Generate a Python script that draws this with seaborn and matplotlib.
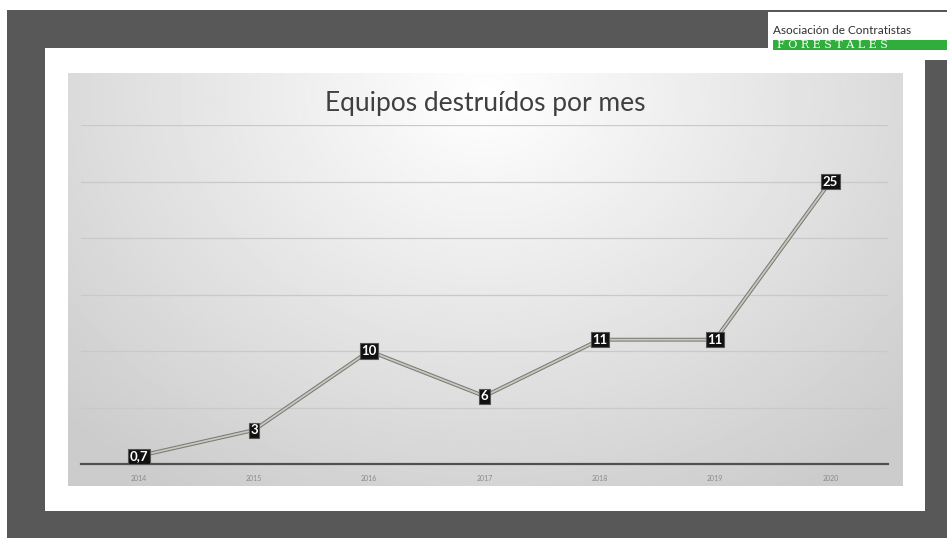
import numpy as np
import pandas as pd
import seaborn as sns
import matplotlib.pyplot as plt
from matplotlib.patches import Rectangle

# data
years = ['2014', '2015', '2016', '2017', '2018', '2019', '2020']
destroyed = [0.7, 3, 10, 6, 11, 11, 25]
value_labels = ['0,7', '3', '10', '6', '11', '11', '25']

df = pd.DataFrame({'year': years, 'equipos': destroyed})

sns.set_theme(style='white')
plt.rcParams['font.family'] = ['Lato', 'DejaVu Sans']

W, H = 947, 538
fig = plt.figure(figsize=(W / 100, H / 100), dpi=100)
fig.patch.set_facecolor('white')


def px_rect(x0, y0, x1, y1):
    # pixel box (top-left origin) -> figure fraction rect
    return [x0 / W, 1 - y1 / H, (x1 - x0) / W, (y1 - y0) / H]


# dark backdrop and white slide
fig.patches.append(Rectangle((7 / W, 0), 1, 1 - 10 / H, transform=fig.transFigure,
                             facecolor='#585858', edgecolor='none', zorder=-2))
fig.patches.append(Rectangle((45 / W, 1 - 511 / H), 880 / W, 463 / H,
                             transform=fig.transFigure, facecolor='white',
                             edgecolor='none', zorder=-1))

# gradient chart area
bg = fig.add_axes(px_rect(68, 73, 902, 486))
bg.set_zorder(1)
gx, gy = np.meshgrid(np.linspace(-1, 1, 300), np.linspace(-1, 1, 200))
r = np.sqrt((gx * 0.9) ** 2 + ((gy + 0.9) * 0.55) ** 2)
shade = np.clip(1.0 - 0.16 * r, 0.8, 1.0)
bg.imshow(shade, cmap='gray', vmin=0, vmax=1, aspect='auto', extent=[0, 1, 0, 1])
bg.axis('off')

# main plot axes
ax = fig.add_axes(px_rect(81, 125, 888, 464))
ax.set_zorder(2)
ax.patch.set_alpha(0)
sns.lineplot(data=df, x='year', y='equipos', ax=ax, color='#7a7a72', linewidth=2.8,
             sort=False, zorder=3)
sns.lineplot(data=df, x='year', y='equipos', ax=ax, color='#c8c8c0', linewidth=1.3,
             sort=False, zorder=4)

for i, (v, lab) in enumerate(zip(destroyed, value_labels)):
    ax.text(i, v, lab, ha='center', va='center', fontsize=9.5, color='white',
            fontweight='bold', zorder=6,
            bbox=dict(boxstyle='square,pad=0.12', facecolor='#111111', edgecolor='#555555',
                      linewidth=0.8))

ax.set_xlim(-0.5, len(years) - 0.5)
ax.set_ylim(0, 30)
ax.set_yticks(np.arange(5, 31, 5))
ax.yaxis.grid(True, color='#c9c9c9', linewidth=0.9)
ax.xaxis.grid(False)
ax.set_yticklabels([])
ax.tick_params(axis='y', length=0)
ax.tick_params(axis='x', length=0, labelsize=5, labelcolor='#8a8a8a', pad=8)
for s in ['top', 'right', 'left']:
    ax.spines[s].set_visible(False)
ax.spines['bottom'].set_color('#505050')
ax.spines['bottom'].set_linewidth(1.6)
ax.set_xlabel('')
ax.set_ylabel('')

fig.text(485 / W, 1 - 104 / H, 'Equipos destruídos por mes', ha='center', va='center',
         fontsize=19, color='#404040', zorder=10)

# logo (overlay axes so it sits above everything)
logo = fig.add_axes(px_rect(768, 12, 947, 60))
logo.set_zorder(5)
logo.set_xlim(0, 1)
logo.set_ylim(0, 1)
logo.axis('off')
logo.add_patch(Rectangle((0, 0), 1, 1, facecolor='white', edgecolor='none'))
logo.add_patch(Rectangle((0.03, 0.2), 1, 0.22, facecolor='#2fae3c', edgecolor='none'))
logo.text(0.03, 0.62, 'Asociación de Contratistas', fontsize=8.5, color='#303030',
          ha='left', va='center', clip_on=True)
logo.text(0.05, 0.31, 'F O R E S T A L E S', fontsize=8, color='white',
          ha='left', va='center', family='DejaVu Serif', clip_on=True)

fig.savefig('out.png', dpi=100)
